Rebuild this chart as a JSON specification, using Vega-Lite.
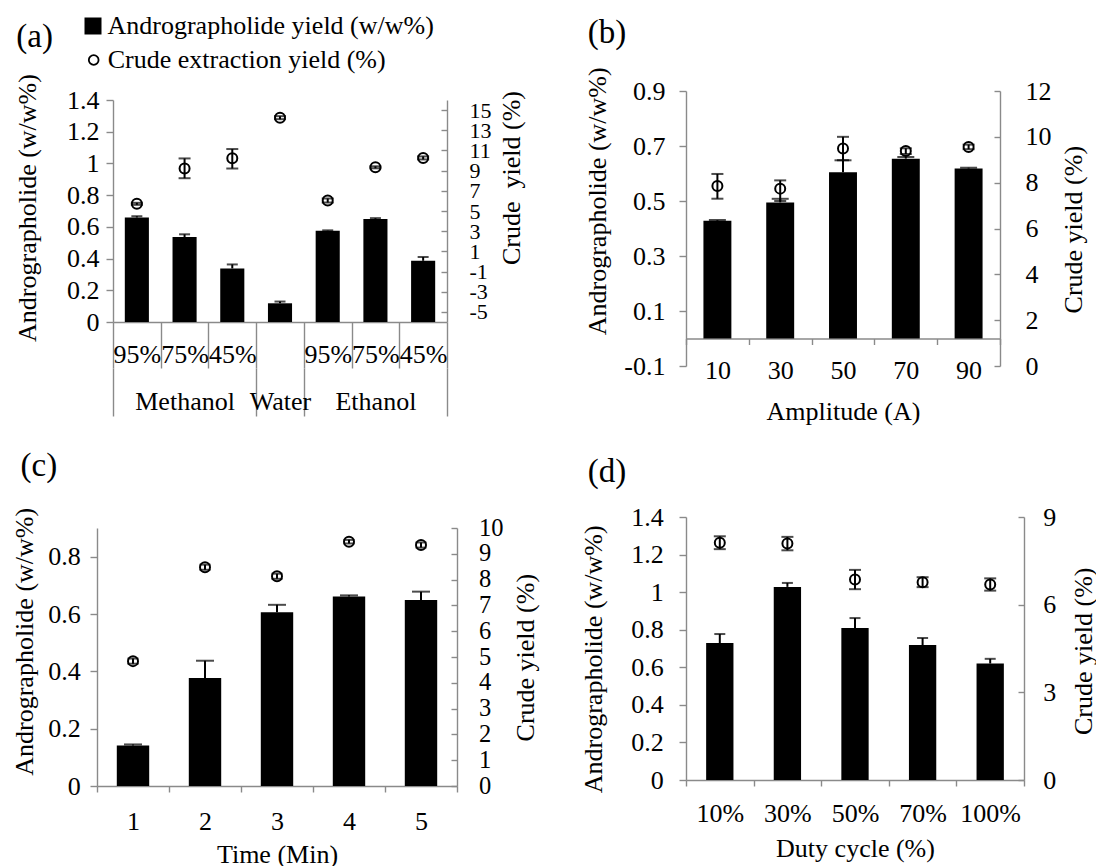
{
  "$schema": "https://vega.github.io/schema/vega-lite/v6.json",
  "background": "white",
  "padding": {"left": 10, "top": 13, "right": 0, "bottom": 0},
  "config": {
    "font": "Liberation Serif",
    "view": {"stroke": null},
    "axis": {
      "labelFont": "Liberation Serif", "titleFont": "Liberation Serif",
      "labelFontSize": 26, "titleFontSize": 26, "labelColor": "black", "titleColor": "black",
      "titleFontWeight": "normal", "domainColor": "#8a8a8a", "tickColor": "#8a8a8a",
      "domainWidth": 1.4, "tickWidth": 1.4, "grid": false, "labelOverlap": false,
      "labelFlush": false, "labelBound": false, "labelLimit": 1000, "titleLimit": 1000
    },
    "legend": {"labelFont": "Liberation Serif", "labelFontSize": 26, "labelColor": "black", "labelLimit": 1000},
    "title": {"font": "Liberation Serif", "fontSize": 33, "fontWeight": "normal", "color": "black", "anchor": "start", "frame": "group", "baseline": "bottom"}
  },
  "columns": 2,
  "spacing": {"row": 151, "column": 229},
  "bounds": "flush",
  "align": "each",
  "concat": [
    {
      "width": 350, "height": 231,
      "title": {"text": "(a)", "dx": -80.7, "offset": 20},
      "data": {"values": [
        {"cat": "M95%", "a": 0.659, "a_hi": 0.667, "c": 5.71, "c_lo": 5.61, "c_hi": 5.81},
        {"cat": "M75%", "a": 0.536, "a_hi": 0.553, "c": 9.21, "c_lo": 8.25, "c_hi": 10.21},
        {"cat": "M45%", "a": 0.338, "a_hi": 0.363, "c": 10.23, "c_lo": 9.21, "c_hi": 11.14},
        {"cat": "W", "a": 0.118, "a_hi": 0.129, "c": 14.25, "c_lo": 14.1, "c_hi": 14.4},
        {"cat": "E95%", "a": 0.576, "a_hi": 0.578, "c": 6.04, "c_lo": 5.84, "c_hi": 6.24},
        {"cat": "E75%", "a": 0.65, "a_hi": 0.655, "c": 9.33, "c_lo": 9.23, "c_hi": 9.43},
        {"cat": "E45%", "a": 0.386, "a_hi": 0.41, "c": 10.26, "c_lo": 10.11, "c_hi": 10.41}
      ]},
      "resolve": {"scale": {"y": "independent"}, "axis": {"x": "independent", "y": "independent"}},
      "layer": [
        {"layer": [
          {"mark": {"type": "bar", "width": {"band": 0.505}},
           "encoding": {
             "x": {"field": "cat", "type": "nominal", "sort": null,
                   "scale": {"domain": ["M95%", "M75%", "M45%", "W", "E95%", "E75%", "E45%"], "range": [16, 350], "paddingInner": 0, "paddingOuter": 0},
                   "axis": {"orient": "bottom", "title": null, "tickBand": "extent", "tickSize": 46, "labelPadding": -26.7, "labelAngle": 0,
                            "labelExpr": "isString(datum.value) ? substring(datum.value, 1) : ''"}},
             "y": {"field": "a", "type": "quantitative", "scale": {"domain": [0, 1.4], "range": [231, 9]},
                   "axis": {"orient": "left", "offset": -16, "values": [0, 0.2, 0.4, 0.6, 0.8, 1, 1.2, 1.4], "tickCount": 50, "labelExpr": "'' + datum.value", "labelOverlap": false, "tickSize": 7, "labelPadding": 7,
                            "title": "Andrographolide (w/w%)", "titleX": -85.5, "titleY": 116.5, "titleAngle": 270, "titleBaseline": "middle", "titleAlign": "center"}},
             "color": {"datum": "Andrographolide yield (w/w%)", "type": "nominal",
                       "scale": {"range": ["black"]},
                       "legend": {"orient": "none", "legendX": -17, "legendY": -78, "title": null, "padding": 0,
                                  "symbolType": "square", "symbolSize": 289, "labelOffset": 1.5, "symbolStrokeWidth": 0}}
           }},
          {"mark": {"type": "rule", "color": "black", "strokeWidth": 2},
           "encoding": {"x": {"field": "cat", "type": "nominal", "sort": null}, "y": {"field": "a", "type": "quantitative"}, "y2": {"field": "a_hi"}}},
          {"mark": {"type": "tick", "orient": "horizontal", "color": "black", "thickness": 2, "size": 11},
           "encoding": {"x": {"field": "cat", "type": "nominal", "sort": null}, "y": {"field": "a_hi", "type": "quantitative"}}}
        ]},
        {"layer": [
          {"mark": {"type": "rule", "color": "black", "strokeWidth": 2},
           "encoding": {
             "x": {"field": "cat", "type": "nominal", "sort": null,
                   "axis": {"orient": "bottom", "title": null, "offset": 46, "domain": false, "tickBand": "extent", "tickSize": 48, "labelPadding": -27.7, "labelAngle": 0,
                            "tickOpacity": {"condition": {"test": "datum.extra || datum.value == 'M45%' || datum.value == 'W' || datum.value == 'E45%'", "value": 1}, "value": 0},
                            "labelExpr": "datum.value == 'M75%' ? 'Methanol' : datum.value == 'W' ? 'Water' : datum.value == 'E75%' ? 'Ethanol' : ''"}},
             "y": {"field": "c_lo", "type": "quantitative", "scale": {"domain": [-5, 15], "range": [231, 9]},
                   "axis": {"orient": "right", "values": [-5, -3, -1, 1, 3, 5, 7, 9, 11, 13, 15], "tickCount": 50, "labelExpr": "'' + datum.value", "labelOverlap": false, "labelFontSize": 22, "tickSize": -6, "labelPadding": 28,
                            "title": "Crude \u00a0yield (%)", "titleX": 64, "titleY": 86.5, "titleAngle": 270, "titleBaseline": "middle", "titleAlign": "center"}},
             "y2": {"field": "c_hi"}}},
          {"mark": {"type": "tick", "orient": "horizontal", "color": "black", "thickness": 2, "size": 12},
           "encoding": {"x": {"field": "cat", "type": "nominal", "sort": null}, "y": {"field": "c_lo", "type": "quantitative"}}},
          {"mark": {"type": "tick", "orient": "horizontal", "color": "black", "thickness": 2, "size": 12},
           "encoding": {"x": {"field": "cat", "type": "nominal", "sort": null}, "y": {"field": "c_hi", "type": "quantitative"}}},
          {"mark": {"type": "point", "filled": false, "size": 100, "strokeWidth": 2, "color": "black", "opacity": 1},
           "encoding": {"x": {"field": "cat", "type": "nominal", "sort": null}, "y": {"field": "c", "type": "quantitative"},
                        "shape": {"datum": "Crude extraction yield (%)", "type": "nominal", "scale": {"range": ["circle"]},
                                  "legend": {"orient": "none", "legendX": -16.3, "legendY": -44, "title": null, "padding": 0,
                                             "symbolSize": 95, "symbolStrokeWidth": 1.8, "symbolStrokeColor": "black", "labelOffset": 1}}}}
        ]}
      ]
    },
    {
      "width": 314, "height": 275,
      "title": {"text": "(b)", "dx": -98.3, "offset": 17},
      "data": {"values": [
        {"cat": "10", "a": 0.428, "a_hi": 0.431, "c": 7.85, "c_lo": 7.3, "c_hi": 8.38},
        {"cat": "30", "a": 0.495, "a_hi": 0.508, "c": 7.74, "c_lo": 7.2, "c_hi": 8.1},
        {"cat": "50", "a": 0.605, "a_hi": 0.648, "c": 9.49, "c_lo": 8.98, "c_hi": 10.0},
        {"cat": "70", "a": 0.654, "a_hi": 0.66, "c": 9.38, "c_lo": 9.25, "c_hi": 9.5},
        {"cat": "90", "a": 0.618, "a_hi": 0.621, "c": 9.56, "c_lo": 9.46, "c_hi": 9.66}
      ]},
      "resolve": {"scale": {"y": "independent"}},
      "layer": [
        {"layer": [
          {"mark": {"type": "bar", "width": {"band": 0.445}, "color": "black"},
           "encoding": {
             "x": {"field": "cat", "type": "nominal", "sort": null, "scale": {"paddingInner": 0, "paddingOuter": 0},
                   "axis": {"title": "Amplitude (A)", "tickBand": "extent", "offset": -27.5, "tickSize": 6, "labelPadding": 12.8, "labelAngle": 0,
                            "titleX": 157, "titleY": 73.2, "titleBaseline": "middle", "titleAlign": "center", "titleAngle": 0}},
             "y": {"field": "a", "type": "quantitative", "scale": {"domain": [-0.1, 0.9]},
                   "axis": {"orient": "left", "values": [-0.1, 0.1, 0.3, 0.5, 0.7, 0.9], "tickCount": 50, "labelExpr": "'' + datum.value", "labelOverlap": false, "tickSize": 7, "labelPadding": 14,
                            "title": "Andrographolide (w/w%)", "titleX": -89, "titleY": 109.8, "titleAngle": 270, "titleBaseline": "middle", "titleAlign": "center"}}
           }},
          {"mark": {"type": "rule", "color": "black", "strokeWidth": 2},
           "encoding": {"x": {"field": "cat", "type": "nominal", "sort": null}, "y": {"field": "a", "type": "quantitative"}, "y2": {"field": "a_hi"}}},
          {"mark": {"type": "tick", "orient": "horizontal", "color": "black", "thickness": 2, "size": 17},
           "encoding": {"x": {"field": "cat", "type": "nominal", "sort": null}, "y": {"field": "a_hi", "type": "quantitative"}}}
        ]},
        {"layer": [
          {"mark": {"type": "rule", "color": "black", "strokeWidth": 2},
           "encoding": {
             "x": {"field": "cat", "type": "nominal", "sort": null},
             "y": {"field": "c_lo", "type": "quantitative", "scale": {"domain": [0, 12]},
                   "axis": {"orient": "right", "values": [0, 2, 4, 6, 8, 10, 12], "tickCount": 50, "labelExpr": "'' + datum.value", "labelOverlap": false, "tickSize": -6, "labelPadding": 31,
                            "title": "Crude yield (%)", "titleX": 73.5, "titleY": 138.2, "titleAngle": 270, "titleBaseline": "middle", "titleAlign": "center"}},
             "y2": {"field": "c_hi"}}},
          {"mark": {"type": "tick", "orient": "horizontal", "color": "black", "thickness": 2, "size": 12},
           "encoding": {"x": {"field": "cat", "type": "nominal", "sort": null}, "y": {"field": "c_lo", "type": "quantitative"}}},
          {"mark": {"type": "tick", "orient": "horizontal", "color": "black", "thickness": 2, "size": 12},
           "encoding": {"x": {"field": "cat", "type": "nominal", "sort": null}, "y": {"field": "c_hi", "type": "quantitative"}}},
          {"mark": {"type": "point", "filled": false, "size": 100, "strokeWidth": 2, "color": "black", "opacity": 1},
           "encoding": {"x": {"field": "cat", "type": "nominal", "sort": null}, "y": {"field": "c", "type": "quantitative"}}}
        ]}
      ]
    },
    {
      "width": 360, "height": 269,
      "title": {"text": "(c)", "dx": -76.5, "offset": 24},
      "data": {"values": [
        {"cat": "1", "a": 0.141, "a_hi": 0.145, "c": 4.84, "c_lo": 4.74, "c_hi": 4.94},
        {"cat": "2", "a": 0.377, "a_hi": 0.437, "c": 8.48, "c_lo": 8.38, "c_hi": 8.58},
        {"cat": "3", "a": 0.606, "a_hi": 0.632, "c": 8.13, "c_lo": 8.03, "c_hi": 8.23},
        {"cat": "4", "a": 0.661, "a_hi": 0.665, "c": 9.47, "c_lo": 9.4, "c_hi": 9.54},
        {"cat": "5", "a": 0.649, "a_hi": 0.678, "c": 9.34, "c_lo": 9.24, "c_hi": 9.44}
      ]},
      "resolve": {"scale": {"y": "independent"}},
      "layer": [
        {"layer": [
          {"mark": {"type": "bar", "width": {"band": 0.45}, "color": "black"},
           "encoding": {
             "x": {"field": "cat", "type": "nominal", "sort": null, "scale": {"paddingInner": 0, "paddingOuter": 0},
                   "axis": {"title": "Time (Min)", "tickBand": "extent", "tickSize": 6, "labelPadding": 16, "labelAngle": 0,
                            "titleX": 180, "titleY": 68.7, "titleBaseline": "middle", "titleAlign": "center", "titleAngle": 0}},
             "y": {"field": "a", "type": "quantitative", "scale": {"domain": [0, 0.9], "range": [269, 11]},
                   "axis": {"orient": "left", "values": [0, 0.2, 0.4, 0.6, 0.8], "tickCount": 50, "labelExpr": "'' + datum.value", "labelOverlap": false, "tickSize": 7, "labelPadding": 9.8,
                            "title": "Andrographolide (w/w%)", "titleX": -73, "titleY": 124.3, "titleAngle": 270, "titleBaseline": "middle", "titleAlign": "center"}}
           }},
          {"mark": {"type": "rule", "color": "black", "strokeWidth": 2},
           "encoding": {"x": {"field": "cat", "type": "nominal", "sort": null}, "y": {"field": "a", "type": "quantitative"}, "y2": {"field": "a_hi"}}},
          {"mark": {"type": "tick", "orient": "horizontal", "color": "black", "thickness": 2, "size": 18},
           "encoding": {"x": {"field": "cat", "type": "nominal", "sort": null}, "y": {"field": "a_hi", "type": "quantitative"}}}
        ]},
        {"layer": [
          {"mark": {"type": "rule", "color": "black", "strokeWidth": 2},
           "encoding": {
             "x": {"field": "cat", "type": "nominal", "sort": null},
             "y": {"field": "c_lo", "type": "quantitative", "scale": {"domain": [0, 10], "range": [269, 11]},
                   "axis": {"orient": "right", "values": [0, 1, 2, 3, 4, 5, 6, 7, 8, 9, 10], "tickCount": 50, "labelExpr": "'' + datum.value", "labelOverlap": false, "labelFontSize": 24.5, "tickSize": -6, "labelPadding": 27.5,
                            "title": "Crude yield (%)", "titleX": 68.6, "titleY": 140.2, "titleAngle": 270, "titleBaseline": "middle", "titleAlign": "center"}},
             "y2": {"field": "c_hi"}}},
          {"mark": {"type": "tick", "orient": "horizontal", "color": "black", "thickness": 2, "size": 11},
           "encoding": {"x": {"field": "cat", "type": "nominal", "sort": null}, "y": {"field": "c_lo", "type": "quantitative"}}},
          {"mark": {"type": "tick", "orient": "horizontal", "color": "black", "thickness": 2, "size": 11},
           "encoding": {"x": {"field": "cat", "type": "nominal", "sort": null}, "y": {"field": "c_hi", "type": "quantitative"}}},
          {"mark": {"type": "point", "filled": false, "size": 100, "strokeWidth": 2, "color": "black", "opacity": 1},
           "encoding": {"x": {"field": "cat", "type": "nominal", "sort": null}, "y": {"field": "c", "type": "quantitative"}}}
        ]}
      ]
    },
    {
      "width": 338, "height": 263,
      "title": {"text": "(d)", "dx": -98.3, "offset": 15},
      "data": {"values": [
        {"cat": "10%", "a": 0.729, "a_hi": 0.777, "c": 8.12, "c_lo": 7.9, "c_hi": 8.34},
        {"cat": "30%", "a": 1.028, "a_hi": 1.049, "c": 8.09, "c_lo": 7.86, "c_hi": 8.32},
        {"cat": "50%", "a": 0.809, "a_hi": 0.862, "c": 6.86, "c_lo": 6.53, "c_hi": 7.19},
        {"cat": "70%", "a": 0.718, "a_hi": 0.756, "c": 6.77, "c_lo": 6.6, "c_hi": 6.94},
        {"cat": "100%", "a": 0.62, "a_hi": 0.645, "c": 6.69, "c_lo": 6.48, "c_hi": 6.9}
      ]},
      "resolve": {"scale": {"y": "independent"}},
      "layer": [
        {"layer": [
          {"mark": {"type": "bar", "width": {"band": 0.404}, "color": "black"},
           "encoding": {
             "x": {"field": "cat", "type": "nominal", "sort": null, "scale": {"paddingInner": 0, "paddingOuter": 0},
                   "axis": {"title": "Duty cycle (%)", "tickBand": "extent", "tickSize": 6, "labelPadding": 14.3, "labelAngle": 0,
                            "titleX": 169, "titleY": 68.7, "titleBaseline": "middle", "titleAlign": "center", "titleAngle": 0}},
             "y": {"field": "a", "type": "quantitative", "scale": {"domain": [0, 1.4]},
                   "axis": {"orient": "left", "values": [0, 0.2, 0.4, 0.6, 0.8, 1, 1.2, 1.4], "tickCount": 50, "labelExpr": "'' + datum.value", "labelOverlap": false, "tickSize": 7, "labelPadding": 15.8,
                            "title": "Andrographolide (w/w%)", "titleX": -92.5, "titleY": 141.8, "titleAngle": 270, "titleBaseline": "middle", "titleAlign": "center"}}
           }},
          {"mark": {"type": "rule", "color": "black", "strokeWidth": 2},
           "encoding": {"x": {"field": "cat", "type": "nominal", "sort": null}, "y": {"field": "a", "type": "quantitative"}, "y2": {"field": "a_hi"}}},
          {"mark": {"type": "tick", "orient": "horizontal", "color": "black", "thickness": 2, "size": 11},
           "encoding": {"x": {"field": "cat", "type": "nominal", "sort": null}, "y": {"field": "a_hi", "type": "quantitative"}}}
        ]},
        {"layer": [
          {"mark": {"type": "rule", "color": "black", "strokeWidth": 2},
           "encoding": {
             "x": {"field": "cat", "type": "nominal", "sort": null},
             "y": {"field": "c_lo", "type": "quantitative", "scale": {"domain": [0, 9]},
                   "axis": {"orient": "right", "values": [0, 3, 6, 9], "tickCount": 50, "labelExpr": "'' + datum.value", "labelOverlap": false, "tickSize": -6, "labelPadding": 24.7,
                            "title": "Crude yield (%)", "titleX": 59, "titleY": 133.8, "titleAngle": 270, "titleBaseline": "middle", "titleAlign": "center"}},
             "y2": {"field": "c_hi"}}},
          {"mark": {"type": "tick", "orient": "horizontal", "color": "black", "thickness": 2, "size": 12},
           "encoding": {"x": {"field": "cat", "type": "nominal", "sort": null}, "y": {"field": "c_lo", "type": "quantitative"}}},
          {"mark": {"type": "tick", "orient": "horizontal", "color": "black", "thickness": 2, "size": 12},
           "encoding": {"x": {"field": "cat", "type": "nominal", "sort": null}, "y": {"field": "c_hi", "type": "quantitative"}}},
          {"mark": {"type": "point", "filled": false, "size": 100, "strokeWidth": 2, "color": "black", "opacity": 1},
           "encoding": {"x": {"field": "cat", "type": "nominal", "sort": null}, "y": {"field": "c", "type": "quantitative"}}}
        ]}
      ]
    }
  ]
}
